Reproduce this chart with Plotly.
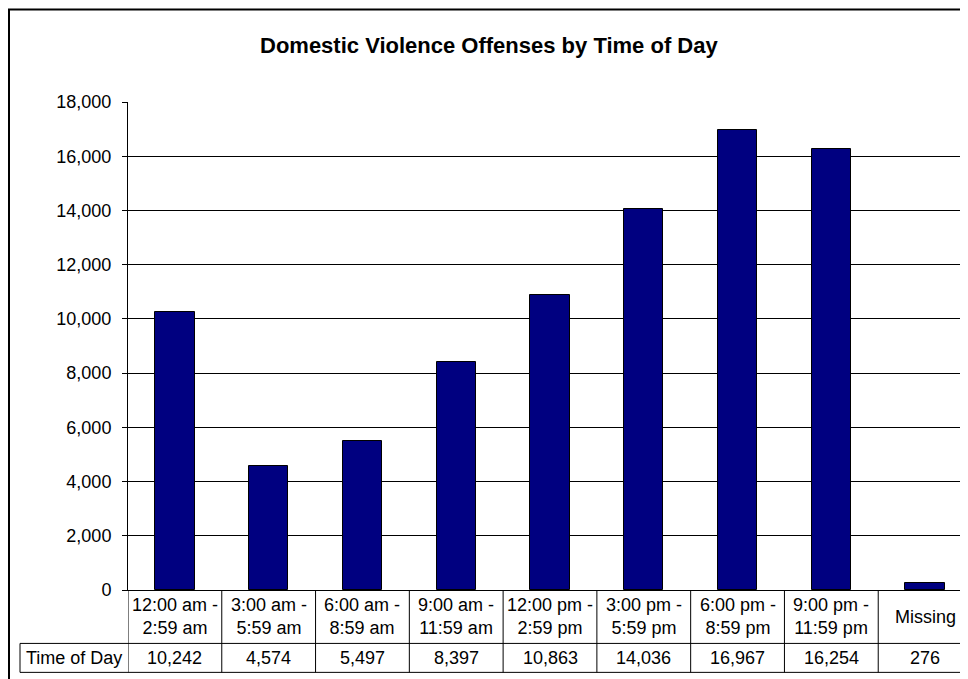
import plotly.graph_objects as go

# ---- data ----
categories = ["12:00 am -<br>2:59 am", "3:00 am -<br>5:59 am", "6:00 am -<br>8:59 am",
              "9:00 am -<br>11:59 am", "12:00 pm -<br>2:59 pm", "3:00 pm -<br>5:59 pm",
              "6:00 pm -<br>8:59 pm", "9:00 pm -<br>11:59 pm", "Missing"]
values = [10242, 4574, 5497, 8397, 10863, 14036, 16967, 16254, 276]
row_header = "Time of Day"
title_text = "Domestic Violence Offenses by Time of Day"
y_ticks = [0, 2000, 4000, 6000, 8000, 10000, 12000, 14000, 16000, 18000]

OFF = 8  # page body margin
W, H = 968 - OFF, 679 - OFF
ML, MR = 128 - OFF, 0
MT = 101.7 - OFF
MB = H - (590.5 - OFF)
plot_w = W - ML - MR
plot_h = H - MT - MB

def py(p):  # screenshot pixel y -> paper y
    return (H - MB - (p - OFF)) / plot_h

def px(p):  # screenshot pixel x -> paper x
    return ((p - OFF) - ML) / plot_w

FONT = "Liberation Sans, Arial, sans-serif"
FS = 18
idx = list(range(len(categories)))

fig = go.Figure()
fig.add_trace(go.Bar(
    x=idx, y=values, width=0.42,
    marker=dict(color="#000080", line=dict(color="#000000", width=1)),
    hoverinfo="y",
))

shapes = []
annotations = []
row_sep = py(644)
row_bot = py(673)

for i in idx:
    shapes.append(dict(type="line", xref="x", yref="paper", x0=i - 0.5, x1=i - 0.5,
                       y0=0, y1=row_bot, line=dict(color="#000000", width=1)))
    annotations.append(dict(xref="x", yref="paper", x=i, y=py(617.5),
                            text=categories[i], showarrow=False, align="center",
                            font=dict(family=FONT, size=FS, color="#000"),
                            xanchor="center", yanchor="middle"))
    annotations.append(dict(xref="x", yref="paper", x=i, y=py(659),
                            text=f"{values[i]:,}", showarrow=False,
                            font=dict(family=FONT, size=FS, color="#000"),
                            xanchor="center", yanchor="middle"))
for yy in (row_sep, row_bot):
    shapes.append(dict(type="line", xref="paper", yref="paper", x0=px(20), x1=1.05,
                       y0=yy, y1=yy, line=dict(color="#000000", width=1)))
shapes.append(dict(type="line", xref="paper", yref="paper", x0=px(20), x1=px(20),
                   y0=row_sep, y1=row_bot, line=dict(color="#000000", width=1)))
annotations.append(dict(xref="paper", yref="paper", x=px(74), y=py(659),
                        text=row_header, showarrow=False,
                        font=dict(family=FONT, size=FS, color="#000"),
                        xanchor="center", yanchor="middle"))
# outer chart border
shapes.append(dict(type="rect", xref="paper", yref="paper",
                   x0=px(9), x1=px(1000), y0=py(9), y1=py(720),
                   line=dict(color="#000000", width=2), fillcolor="rgba(0,0,0,0)"))
# title
annotations.append(dict(xref="paper", yref="paper", x=px(489), y=py(45),
                        text="<b>" + title_text + "</b>", showarrow=False,
                        font=dict(family=FONT, size=22, color="#000"),
                        xanchor="center", yanchor="middle"))

fig.update_layout(
    width=W, height=H,
    margin=dict(l=ML, r=MR, t=MT, b=MB, pad=0),
    paper_bgcolor="white", plot_bgcolor="white",
    showlegend=False,
    shapes=shapes, annotations=annotations,
    font=dict(family=FONT, size=FS, color="#000"),
    xaxis=dict(range=[-0.5, len(categories) - 0.5 - 4 / 93.8], showticklabels=False,
               ticks="", showgrid=False, zeroline=False, showline=True,
               linecolor="#000", linewidth=1, fixedrange=True),
    yaxis=dict(range=[0, 18000], tickvals=y_ticks, tickformat=",", ticks="outside",
               ticklen=5, tickcolor="#000", showgrid=True, gridcolor="#000", gridwidth=1,
               zeroline=False, showline=True, linecolor="#000", linewidth=1,
               ticklabelstandoff=7, tickfont=dict(family=FONT, size=FS, color="#000"),
               fixedrange=True),
    bargap=0,
)

fig.write_html("out.html")
